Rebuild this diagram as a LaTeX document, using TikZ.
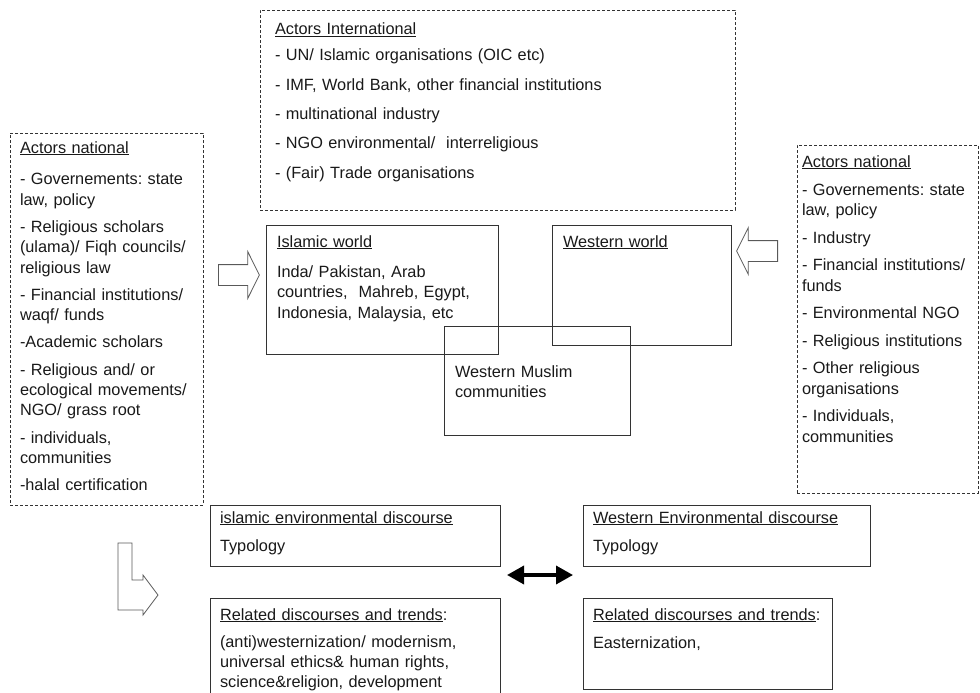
\documentclass[tikz,border=0pt]{standalone}
\usepackage{fontspec}
\setmainfont{Liberation Sans}
\usetikzlibrary{positioning, arrows.meta, shapes.arrows}

\newcommand{\txt}{\fontsize{16.3}{20.5}\selectfont\frenchspacing}
\newcommand{\ttl}[1]{\underline{#1}}

\begin{document}
\begin{tikzpicture}[
    x=1pt, y=-1pt,
    box/.style={rectangle, draw=black!80, line width=0.9pt, anchor=north west,
                align=left, font=\txt, text=black!90, inner xsep=10pt,
                inner ysep=0pt, outer sep=0pt},
    actors/.style={box, dash pattern=on 3pt off 2pt},
    hollow/.style={single arrow, draw=black!65, line width=0.8pt,
                   minimum height=41pt, minimum width=0pt, inner xsep=0pt,
                   inner ysep=10pt, single arrow head extend=13pt,
                   single arrow tip angle=127, anchor=tail},
    bent/.style={draw=black!65, line width=0.8pt, line join=miter},
    both/.style={{Triangle[length=17pt,width=18pt]}-{Triangle[length=17pt,width=18pt]},
                 line width=3.5pt}
]
\useasboundingbox (0,0) rectangle (980,693);
\clip (0,0) rectangle (980,693);

% --- Actor boxes (dashed) ---
\node[actors, inner xsep=15pt, text width=445pt, text height=25pt,
      text depth=175pt] (intl) at (260,10)
    {\ttl{Actors International}\\[5pt]
     - UN/ Islamic organisations (OIC etc)\\[9pt]
     - IMF, World Bank, other financial institutions\\[9pt]
     - multinational industry\\[9pt]
     - NGO environmental/\ \ interreligious\\[9pt]
     - (Fair) Trade organisations};

\node[actors, text width=173pt, text height=20pt, text depth=352pt]
    (natl-isl) at (10,133)
    {\ttl{Actors national}\\[11.5pt]
     - Governements: state\\ law, policy\\[6.5pt]
     - Religious scholars\\ (ulama)/ Fiqh councils/\\ religious law\\[6.5pt]
     - Financial institutions/\\ waqf/ funds\\[6.5pt]
     -Academic scholars\\[6.5pt]
     - Religious and/ or\\ ecological movements/\\ NGO/ grass root\\[6.5pt]
     - individuals,\\ communities\\[6.5pt]
     -halal certification};

\node[actors, inner xsep=5pt, text width=171pt, text height=22pt,
      text depth=326pt] (natl-wst) at (797,145)
    {\ttl{Actors national}\\[7.5pt]
     - Governements: state\\ law, policy\\[7pt]
     - Industry\\[7pt]
     - Financial institutions/\\ funds\\[7pt]
     - Environmental NGO\\[7pt]
     - Religious institutions\\[7pt]
     - Other religious\\ organisations\\[7pt]
     - Individuals,\\ communities};

% --- Worlds (overlapping) ---
\node[box, inner xsep=11pt, text width=210pt, text height=22pt,
      text depth=107pt] (islw) at (266,225)
    {\ttl{Islamic world}\\[9.5pt]
     Inda/ Pakistan, Arab\\ countries,\ \ Mahreb, Egypt,\\ Indonesia, Malaysia, etc};
\node[box, inner xsep=11pt, text width=157pt, text height=22pt,
      text depth=98pt] (wstw) at (552,225)
    {\ttl{Western world}};
\node[box, inner xsep=11pt, text width=164pt, text height=51pt,
      text depth=58pt] (wmus) at (444,326)
    {Western Muslim\\ communities};

% --- Discourses ---
\node[box, text width=270pt, text height=18pt, text depth=43pt]
    (ienv) at (210,505)
    {\ttl{islamic environmental discourse}\\[7.5pt] Typology};
\node[box, text width=267pt, text height=18pt, text depth=43pt]
    (wenv) at (583,505)
    {\ttl{Western Environmental discourse}\\[7.5pt] Typology};
\node[box, text width=270pt, text height=22pt, text depth=78pt,
      below right=32pt and 0pt of ienv.south west] (irel)
    {\ttl{Related discourses and trends}:\\[7pt]
     (anti)westernization/ modernism,\\[-0.5pt] universal ethics\& human rights,\\[-0.5pt]
     science\&religion, development};
\node[box, text width=229pt, text height=22pt, text depth=69pt,
      below right=32pt and 0pt of wenv.south west] (wrel)
    {\ttl{Related discourses and trends}:\\[8pt] Easternization,};

% --- Arrows ---
\node[hollow] (arrL) at (218,275) {};
\node[hollow, shape border rotate=180] (arrR) at (778,251) {};

\coordinate (lbend) at (118,543);
\draw[bent] (lbend) -- ++(14,0) -- ++(0,37) -- ++(11,0) -- ++(0,-5)
    -- ++(15,20) -- ++(-15,20) -- ++(0,-5) -- ++(-25,0) -- cycle;

\coordinate (dl) at (507,575);
\coordinate (dr) at (573,575);
\draw[both] (dl) -- (dr);

\end{tikzpicture}
\end{document}
